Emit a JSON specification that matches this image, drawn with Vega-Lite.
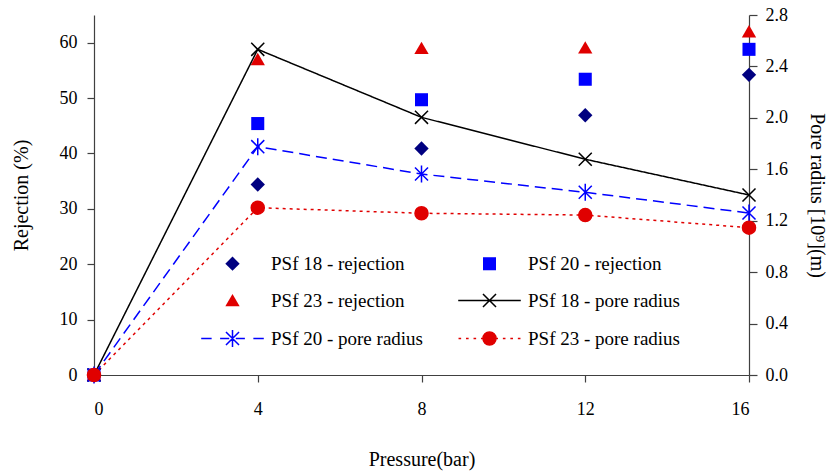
{
  "$schema": "https://vega.github.io/schema/vega-lite/v6.json",
  "width": 655,
  "height": 360,
  "autosize": {"type": "none"},
  "padding": {"left": 94, "top": 15, "right": 81, "bottom": 100},
  "background": "white",
  "config": {
    "view": {"stroke": null},
    "font": "'Liberation Serif', serif",
    "axis": {"grid": false, "domainColor": "#404040", "tickColor": "#404040", "labelColor": "#000000", "titleColor": "#000000", "labelFont": "'Liberation Serif', serif", "titleFont": "'Liberation Serif', serif", "labelFontSize": 18, "titleFontSize": 20, "titleFontWeight": "normal", "domainWidth": 1.2, "tickWidth": 1.2},
    "legend": {"labelFont": "'Liberation Serif', serif", "labelFontSize": 19, "labelColor": "#000000"}
  },
  "data": {
    "values": [
      {"pressure": 0, "series": "PSf 18 - rejection", "kind": "rejection", "value": 0},
      {"pressure": 4, "series": "PSf 18 - rejection", "kind": "rejection", "value": 34.4},
      {"pressure": 8, "series": "PSf 18 - rejection", "kind": "rejection", "value": 40.9},
      {"pressure": 12, "series": "PSf 18 - rejection", "kind": "rejection", "value": 46.9},
      {"pressure": 16, "series": "PSf 18 - rejection", "kind": "rejection", "value": 54.2},
      {"pressure": 0, "series": "PSf 20 - rejection", "kind": "rejection", "value": 0},
      {"pressure": 4, "series": "PSf 20 - rejection", "kind": "rejection", "value": 45.4},
      {"pressure": 8, "series": "PSf 20 - rejection", "kind": "rejection", "value": 49.7},
      {"pressure": 12, "series": "PSf 20 - rejection", "kind": "rejection", "value": 53.4},
      {"pressure": 16, "series": "PSf 20 - rejection", "kind": "rejection", "value": 58.8},
      {"pressure": 0, "series": "PSf 23 - rejection", "kind": "rejection", "value": 0},
      {"pressure": 4, "series": "PSf 23 - rejection", "kind": "rejection", "value": 57.0},
      {"pressure": 8, "series": "PSf 23 - rejection", "kind": "rejection", "value": 59.0},
      {"pressure": 12, "series": "PSf 23 - rejection", "kind": "rejection", "value": 59.1},
      {"pressure": 16, "series": "PSf 23 - rejection", "kind": "rejection", "value": 62.0},
      {"pressure": 0, "series": "PSf 18 - pore radius", "kind": "pore", "value": 0},
      {"pressure": 4, "series": "PSf 18 - pore radius", "kind": "pore", "value": 2.533},
      {"pressure": 8, "series": "PSf 18 - pore radius", "kind": "pore", "value": 2.004},
      {"pressure": 12, "series": "PSf 18 - pore radius", "kind": "pore", "value": 1.678},
      {"pressure": 16, "series": "PSf 18 - pore radius", "kind": "pore", "value": 1.40},
      {"pressure": 0, "series": "PSf 20 - pore radius", "kind": "pore", "value": 0},
      {"pressure": 4, "series": "PSf 20 - pore radius", "kind": "pore", "value": 1.776},
      {"pressure": 8, "series": "PSf 20 - pore radius", "kind": "pore", "value": 1.563},
      {"pressure": 12, "series": "PSf 20 - pore radius", "kind": "pore", "value": 1.421},
      {"pressure": 16, "series": "PSf 20 - pore radius", "kind": "pore", "value": 1.26},
      {"pressure": 0, "series": "PSf 23 - pore radius", "kind": "pore", "value": 0},
      {"pressure": 4, "series": "PSf 23 - pore radius", "kind": "pore", "value": 1.301},
      {"pressure": 8, "series": "PSf 23 - pore radius", "kind": "pore", "value": 1.258},
      {"pressure": 12, "series": "PSf 23 - pore radius", "kind": "pore", "value": 1.244},
      {"pressure": 16, "series": "PSf 23 - pore radius", "kind": "pore", "value": 1.146}
    ]
  },
  "encoding": {
    "x": {"field": "pressure", "type": "quantitative", "scale": {"domain": [0, 16], "nice": false}, "axis": {"title": "Pressure(bar)", "values": [0, 4, 8, 12, 16], "tickSize": 7, "labelPadding": 18, "titlePadding": 31}}
  },
  "layer": [
    {
      "transform": [{"filter": "datum.kind === 'rejection'"}],
      "mark": {"type": "point", "filled": true, "opacity": 1, "size": 170, "strokeWidth": 1.5},
      "encoding": {
        "y": {"field": "value", "type": "quantitative", "scale": {"domain": [0, 65], "nice": false}, "axis": {"title": "Rejection (%)", "orient": "left", "values": [0, 10, 20, 30, 40, 50, 60], "tickSize": 7, "labelPadding": 10, "titlePadding": 28}},
        "fill": {"field": "series", "type": "nominal", "scale": {"domain": ["PSf 18 - rejection", "PSf 20 - rejection", "PSf 23 - rejection", "PSf 18 - pore radius", "PSf 20 - pore radius", "PSf 23 - pore radius"], "range": ["#000080", "#0000ff", "#e00000", "transparent", "transparent", "#e00000"]}, "legend": {"title": null, "orient": "none", "direction": "horizontal", "legendX": 129, "legendY": 239, "columns": 2, "columnPadding": 32, "rowPadding": 16, "symbolSize": 170, "symbolStrokeWidth": 1.5, "labelOffset": 29, "padding": 0}},
        "stroke": {"field": "series", "type": "nominal", "scale": {"domain": ["PSf 18 - rejection", "PSf 20 - rejection", "PSf 23 - rejection", "PSf 18 - pore radius", "PSf 20 - pore radius", "PSf 23 - pore radius"], "range": ["transparent", "transparent", "transparent", "#000000", "#0000ff", "#e00000"]}, "legend": {"title": null, "orient": "none", "direction": "horizontal", "legendX": 129, "legendY": 239, "columns": 2, "columnPadding": 32, "rowPadding": 16, "symbolSize": 170, "symbolStrokeWidth": 1.5, "labelOffset": 29, "padding": 0}},
        "shape": {"field": "series", "type": "nominal", "scale": {"domain": ["PSf 18 - rejection", "PSf 20 - rejection", "PSf 23 - rejection", "PSf 18 - pore radius", "PSf 20 - pore radius", "PSf 23 - pore radius"], "range": [
          "M0,-1.1L1.1,0L0,1.1L-1.1,0Z",
          "M-1,-1H1V1H-1Z",
          "M0,-1L1.1,0.9H-1.1Z",
          "M-4.8,0H4.8M-1,-1L1,1M-1,1L1,-1",
          "M-4.8,0H-3.2M-1.9,0H-0.5M0.5,0H1.9M3.2,0H4.8M-1,-1L1,1M-1,1L1,-1M0,-1.3V1.3",
          "M-4.75,0H-4.35M-3.6,0H-3.2M-2.45,0H-2.05M-1.3,0H-1M1,0H1.3M2.05,0H2.45M3.2,0H3.6M4.35,0H4.75M-1,0A1,1 0 1,1 1,0A1,1 0 1,1 -1,0Z"
        ]}, "legend": {"title": null, "orient": "none", "direction": "horizontal", "legendX": 129, "legendY": 239, "columns": 2, "columnPadding": 32, "rowPadding": 16, "symbolSize": 170, "symbolStrokeWidth": 1.5, "labelOffset": 29, "padding": 0}}
      }
    },
    {
      "transform": [{"filter": "datum.kind === 'pore'"}],
      "encoding": {
        "y": {"field": "value", "type": "quantitative", "scale": {"domain": [0, 2.8], "nice": false}, "axis": {"title": "Pore radius [10⁹](m)", "orient": "right", "values": [0, 0.4, 0.8, 1.2, 1.6, 2.0, 2.4, 2.8], "format": ".1f", "tickSize": 8, "labelPadding": 8, "titlePadding": 19}}
      },
      "layer": [
        {
          "mark": {"type": "line", "strokeWidth": 1.5},
          "encoding": {
            "color": {"field": "series", "type": "nominal", "scale": {"domain": ["PSf 18 - pore radius", "PSf 20 - pore radius", "PSf 23 - pore radius"], "range": ["#000000", "#0000ff", "#e00000"]}, "legend": null},
            "strokeDash": {"field": "series", "type": "nominal", "scale": {"domain": ["PSf 18 - pore radius", "PSf 20 - pore radius", "PSf 23 - pore radius"], "range": [[1, 0], [11, 6], [3, 4]]}, "legend": null}
          }
        },
        {
          "mark": {"type": "point", "filled": true, "opacity": 1, "size": 170, "strokeWidth": 1.5},
          "encoding": {
            "fill": {"field": "series", "type": "nominal", "scale": {"domain": ["PSf 18 - pore radius", "PSf 20 - pore radius", "PSf 23 - pore radius"], "range": ["transparent", "transparent", "#e00000"]}, "legend": null},
            "stroke": {"field": "series", "type": "nominal", "scale": {"domain": ["PSf 18 - pore radius", "PSf 20 - pore radius", "PSf 23 - pore radius"], "range": ["#000000", "#0000ff", "#e00000"]}, "legend": null},
            "shape": {"field": "series", "type": "nominal", "scale": {"domain": ["PSf 18 - pore radius", "PSf 20 - pore radius", "PSf 23 - pore radius"], "range": ["M-1,-1L1,1M-1,1L1,-1", "M-1,-1L1,1M-1,1L1,-1M0,-1.3V1.3", "circle"]}, "legend": null}
          }
        }
      ]
    }
  ],
  "resolve": {"scale": {"y": "independent", "fill": "independent", "stroke": "independent", "shape": "independent"}, "legend": {"fill": "independent", "stroke": "independent", "shape": "independent"}}
}
